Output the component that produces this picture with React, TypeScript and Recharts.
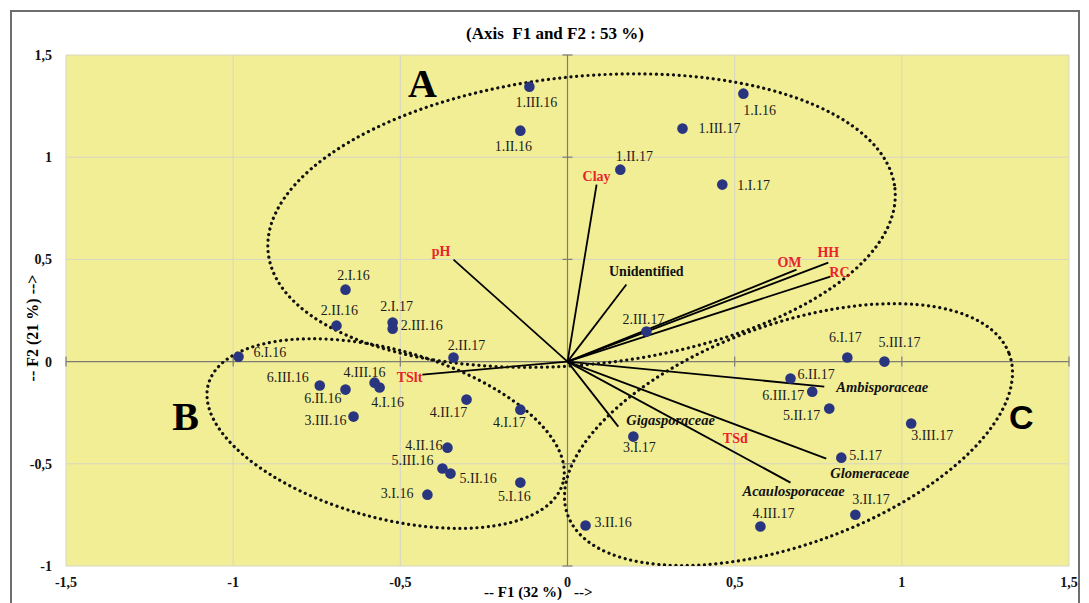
import React from 'react';
import {
  ScatterChart,
  Scatter,
  XAxis,
  YAxis,
  CartesianGrid,
  ReferenceLine,
  ReferenceDot,
} from 'recharts';

// sites (F1 / F2 scores)
const SITES = [
  '1.I.16', '1.II.16', '1.III.16', '1.I.17', '1.II.17', '1.III.17',
  '2.I.16', '2.II.16', '2.III.16', '2.I.17', '2.II.17', '2.III.17',
  '3.I.16', '3.II.16', '3.III.16', '3.I.17', '3.II.17', '3.III.17',
  '4.I.16', '4.II.16', '4.III.16', '4.I.17', '4.II.17', '4.III.17',
  '5.I.16', '5.II.16', '5.III.16', '5.I.17', '5.II.17', '5.III.17',
  '6.I.16', '6.II.16', '6.III.16', '6.I.17', '6.II.17', '6.III.17',
];
const SITE_F1 = [
  0.526, -0.141, -0.114, 0.463, 0.158, 0.344,
  -0.664, -0.691, -0.523, -0.523, -0.341, 0.236,
  -0.419, 0.054, -0.640, 0.197, 0.861, 1.028,
  -0.562, -0.359, -0.577, -0.141, -0.302, 0.577,
  -0.141, -0.350, -0.374, 0.819, 0.783, 0.948,
  -0.984, -0.664, -0.741, 0.837, 0.667, 0.732,
];
const SITE_F2 = [
  1.311, 1.130, 1.345, 0.866, 0.939, 1.140,
  0.352, 0.176, 0.161, 0.191, 0.020, 0.147,
  -0.651, -0.802, -0.269, -0.367, -0.749, -0.303,
  -0.127, -0.421, -0.103, -0.235, -0.186, -0.807,
  -0.592, -0.548, -0.523, -0.470, -0.230, 0.000,
  0.024, -0.137, -0.117, 0.020, -0.083, -0.147,
];

// variables (loadings)
const VARS = [
  'Clay', 'pH', 'Unidentified', 'OM', 'HH', 'RC', 'TSlt',
  'Ambisporaceae', 'Gigasporaceae', 'Glomeraceae', 'Acaulosporaceae', 'TSd',
];
const VAR_F1 = [0.087, -0.341, 0.176, 0.685, 0.780, 0.786, -0.434, 0.768, 0.152, 0.774, 0.667, 0.502];
const VAR_F2 = [0.866, 0.499, 0.377, 0.450, 0.484, 0.416, -0.064, -0.122, -0.318, -0.475, -0.592, -0.377];
const SOIL_VARS = ['Clay', 'pH', 'OM', 'HH', 'RC', 'TSlt', 'TSd'];
const FAMILIES = ['Ambisporaceae', 'Gigasporaceae', 'Glomeraceae', 'Acaulosporaceae'];
const NO_ARROW = ['TSd'];

// groups
const GROUPS = ['A', 'B', 'C'];
const GROUP_F1 = [0.042, -0.544, 0.661];
const GROUP_F2 = [0.69, -0.352, -0.357];
const LETTER_F1 = [-0.434, -1.142, 1.357];
const LETTER_F2 = [1.36, -0.27, -0.27];

const X_TICKS = [-1.5, -1, -0.5, 0, 0.5, 1, 1.5];
const Y_TICKS = [-1, -0.5, 0, 0.5, 1, 1.5];

// label placement: anchor, dx, dy (px from the mark)
const SITE_LABEL: Record<string, [string, number, number]> = {
  '1.I.16': ['start', 0, 17],
  '1.II.16': ['middle', -7, 16],
  '1.III.16': ['middle', 7, 16],
  '1.I.17': ['start', 15, 1],
  '1.II.17': ['middle', 14, -13],
  '1.III.17': ['start', 16, 0],
  '2.I.16': ['middle', 8, -14],
  '2.II.16': ['middle', 3, -15],
  '2.III.16': ['start', 8, -3],
  '2.I.17': ['middle', 4, -16],
  '2.II.17': ['middle', 13, -12],
  '2.III.17': ['middle', -3, -12],
  '3.I.16': ['end', -14, -1],
  '3.II.16': ['start', 9, -3],
  '3.III.16': ['end', -7, 4],
  '3.I.17': ['middle', 6, 11],
  '3.II.17': ['start', -3, -15],
  '3.III.17': ['start', 0, 12],
  '4.I.16': ['middle', 8, 15],
  '4.II.16': ['end', -5, -2],
  '4.III.16': ['middle', -10, -10],
  '4.I.17': ['middle', -11, 13],
  '4.II.17': ['middle', -18, 13],
  '4.III.17': ['start', -8, -13],
  '5.I.16': ['middle', -6, 14],
  '5.II.16': ['start', 9, 5],
  '5.III.16': ['end', -9, -8],
  '5.I.17': ['start', 8, -2],
  '5.II.17': ['end', -9, 7],
  '5.III.17': ['middle', 15, -19],
  '6.I.16': ['start', 15, -4],
  '6.II.16': ['end', -4, 9],
  '6.III.16': ['end', -11, -8],
  '6.I.17': ['middle', -2, -20],
  '6.II.17': ['start', 7, -4],
  '6.III.17': ['end', -8, 4],
};
const VAR_LABEL: Record<string, [string, number, number]> = {
  Clay: ['middle', 0, -8],
  pH: ['end', -3, -8],
  Unidentified: ['middle', 20, -13],
  OM: ['end', 5, -7],
  HH: ['middle', 0, -10],
  RC: ['start', -1, -4],
  TSlt: ['end', 0, 3],
  Ambisporaceae: ['start', 12, 0],
  Gigasporaceae: ['start', 8, -7],
  Glomeraceae: ['start', 4, 14],
  Acaulosporaceae: ['start', -48, 8],
  TSd: ['middle', 0, 0],
};
// ellipse radii in px and rotation
const ELLIPSE: Record<string, [number, number, number]> = {
  A: [315, 144, -5.8],
  B: [184, 84, 15.6],
  C: [235, 110, -20],
};

const SERIF = '"Liberation Serif", "Times New Roman", serif';

const siteData = SITES.map((name, i) => ({ name, x: SITE_F1[i], y: SITE_F2[i] }));
const varData = VARS.map((name, i) => ({ name, x: VAR_F1[i], y: VAR_F2[i] }));
const groupData = GROUPS.map((name, i) => ({ name, x: GROUP_F1[i], y: GROUP_F2[i] }));
const letterData = GROUPS.map((name, i) => ({ name, x: LETTER_F1[i], y: LETTER_F2[i] }));

const fmt = (v: number) => String(v).replace('.', ',');

function SiteShape(props: any) {
  const { cx, cy, payload } = props;
  const [anchor, dx, dy] = SITE_LABEL[payload.name] || ['start', 8, 0];
  return (
    <g>
      <circle cx={cx} cy={cy} r={5.3} fill="#2a3580" />
      <text
        x={cx + dx}
        y={cy + dy}
        textAnchor={anchor}
        dominantBaseline="central"
        fontFamily={SERIF}
        fontSize={14}
        fill="#1c1c1c"
      >
        {payload.name}
      </text>
    </g>
  );
}

function VarShape(props: any) {
  const { cx, cy, payload } = props;
  const [anchor, dx, dy] = VAR_LABEL[payload.name];
  const soil = SOIL_VARS.includes(payload.name);
  const family = FAMILIES.includes(payload.name);
  return (
    <text
      x={cx + dx}
      y={cy + dy}
      textAnchor={anchor}
      dominantBaseline="central"
      fontFamily={SERIF}
      fontSize={family ? 14.5 : 14}
      fontWeight="bold"
      fontStyle={family ? 'italic' : 'normal'}
      fill={soil ? '#e8232a' : '#111'}
    >
      {payload.name}
    </text>
  );
}

function EllipseShape(props: any) {
  const { cx, cy, payload } = props;
  const [rx, ry, angle] = ELLIPSE[payload.name];
  return (
    <ellipse
      cx={cx}
      cy={cy}
      rx={rx}
      ry={ry}
      transform={`rotate(${angle} ${cx} ${cy})`}
      fill="none"
      stroke="#111"
      strokeWidth={3.2}
      strokeDasharray="0.1 5.6"
      strokeLinecap="round"
    />
  );
}

function LetterShape(props: any) {
  const { cx, cy, payload } = props;
  const sans = payload.name === 'C';
  return (
    <text
      x={cx}
      y={cy}
      textAnchor="middle"
      dominantBaseline="central"
      fontFamily={sans ? '"Liberation Sans", Arial, sans-serif' : SERIF}
      fontSize={sans ? 34 : 40}
      fontWeight="bold"
      fill="#000"
    >
      {payload.name}
    </text>
  );
}

const axisTitle: React.CSSProperties = {
  position: 'absolute',
  fontFamily: SERIF,
  fontWeight: 'bold',
  fontSize: 15,
  lineHeight: '18px',
  whiteSpace: 'pre',
};

export default function App() {
  return (
    <div
      style={{
        position: 'absolute',
        left: 0,
        top: 0,
        width: 1089,
        height: 603,
        background: '#fff',
        overflow: 'hidden',
      }}
    >
      <div
        style={{
          position: 'absolute',
          left: 10,
          top: 10,
          width: 1070,
          height: 640,
          border: '2px solid #6e6e6e',
          boxSizing: 'border-box',
        }}
      />
      <div
        style={{
          position: 'absolute',
          left: 0,
          top: 23,
          width: 1110,
          textAlign: 'center',
          fontFamily: SERIF,
          fontWeight: 'bold',
          fontSize: 17,
          lineHeight: '22px',
          whiteSpace: 'pre',
        }}
      >
        {'(Axis  F1 and F2 : 53 %)'}
      </div>
      <div style={{ position: 'absolute', left: 0, top: 0 }}>
        <ScatterChart
          width={1089}
          height={603}
          margin={{ top: 55, right: 20, left: 0, bottom: 0 }}
        >
          <CartesianGrid stroke="#d6d6c4" strokeWidth={1} fill="#f2ee96" fillOpacity={1} />
          <XAxis
            type="number"
            dataKey="x"
            domain={[-1.5, 1.5]}
            ticks={X_TICKS}
            tickFormatter={fmt}
            axisLine={false}
            tickLine={false}
            tickSize={0}
            tickMargin={11}
            height={37}
            allowDataOverflow
            tick={{ fontFamily: SERIF, fontWeight: 'bold', fontSize: 14, fill: '#111' }}
          />
          <YAxis
            type="number"
            dataKey="y"
            domain={[-1, 1.5]}
            ticks={Y_TICKS}
            tickFormatter={fmt}
            axisLine={false}
            tickLine={false}
            tickSize={0}
            tickMargin={14}
            width={66}
            allowDataOverflow
            tick={{ fontFamily: SERIF, fontWeight: 'bold', fontSize: 14, fill: '#111' }}
          />
          <ReferenceLine x={0} stroke="#7d7d70" strokeWidth={1.2} />
          <ReferenceLine y={0} stroke="#7d7d70" strokeWidth={1.2} />
          {Y_TICKS.filter((v) => v !== 0).map((v) => (
            <ReferenceDot
              key={`yt${v}`}
              x={0}
              y={v}
              r={0}
              ifOverflow="visible"
              shape={(p: any) => (
                <line x1={p.cx - 5} x2={p.cx + 5} y1={p.cy} y2={p.cy} stroke="#7d7d70" strokeWidth={1.2} />
              )}
            />
          ))}
          {X_TICKS.filter((v) => v !== 0).map((v) => (
            <ReferenceDot
              key={`xt${v}`}
              x={v}
              y={0}
              r={0}
              ifOverflow="visible"
              shape={(p: any) => (
                <line x1={p.cx} x2={p.cx} y1={p.cy - 5} y2={p.cy + 5} stroke="#7d7d70" strokeWidth={1.2} />
              )}
            />
          ))}
          <Scatter data={groupData} shape={EllipseShape} isAnimationActive={false} />
          {varData
            .filter((d) => !NO_ARROW.includes(d.name))
            .map((d) => (
              <ReferenceLine
                key={`v${d.name}`}
                segment={[
                  { x: 0, y: 0 },
                  { x: d.x, y: d.y },
                ]}
                stroke="#000"
                strokeWidth={1.8}
                ifOverflow="visible"
              />
            ))}
          <Scatter data={varData} shape={VarShape} isAnimationActive={false} />
          <Scatter data={letterData} shape={LetterShape} isAnimationActive={false} />
          <Scatter data={siteData} shape={SiteShape} isAnimationActive={false} />
        </ScatterChart>
      </div>
      {/* x title is split around the "0" tick, as in the original */}
      <div style={{ ...axisTitle, right: 1089 - 562, top: 583, textAlign: 'right' }}>
        {'-- F1 (32 %)'}
      </div>
      <div style={{ ...axisTitle, left: 574, top: 583 }}>{'-->'}</div>
      <div
        style={{
          ...axisTitle,
          left: -67,
          top: 319,
          width: 200,
          textAlign: 'center',
          fontSize: 16,
          transform: 'rotate(-90deg)',
        }}
      >
        {'-- F2 (21 %) -->'}
      </div>
    </div>
  );
}
